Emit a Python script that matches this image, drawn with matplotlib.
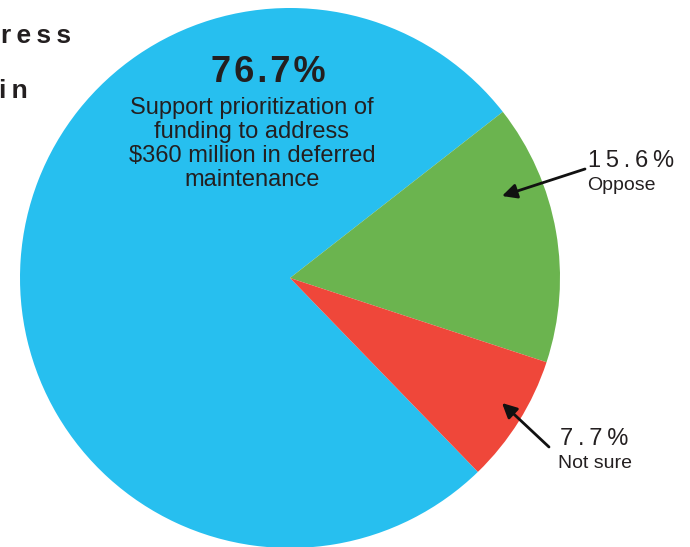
import matplotlib
matplotlib.use("Agg")
import matplotlib.pyplot as plt

# survey result
categories = ["Support prioritization of\nfunding to address\n$360 million in deferred\nmaintenance",
              "Oppose", "Not sure"]
shares = [76.7, 15.6, 7.7]
pct_labels = ["76.7%", "15.6%", "7.7%"]
colors = ["#27BFEF", "#6BB44F", "#EF473A"]

W, H = 690, 547
TXT = "#231F20"
plt.rcParams["font.family"] = ["Liberation Sans", "DejaVu Sans"]


def spaced(s, sep="\u200a"):
    return sep.join(s)


fig = plt.figure(figsize=(W / 100, H / 100), dpi=100)
ax = fig.add_axes([0, 0, 1, 1])

ax.pie(shares, colors=colors, center=(290, H - 278), radius=270,
       startangle=-45.9, counterclock=False,
       wedgeprops=dict(linewidth=0))
ax.set_xlim(0, W)
ax.set_ylim(0, H)
ax.set_aspect("equal")
ax.axis("off")

# cut-off heading on the left
ax.text(71, H - 36, spaced("ress", "\u2009"), ha="right", va="center",
        fontsize=19, fontweight="bold", color=TXT)
ax.text(28, H - 91, spaced("in", "\u2009"), ha="right", va="center",
        fontsize=19, fontweight="bold", color=TXT)

# big slice label
ax.text(268, H - 72, spaced(pct_labels[0]), ha="center", va="center",
        fontsize=26, fontweight="heavy", color=TXT)
ax.text(252, H - 144, categories[0], ha="center", va="center",
        fontsize=17, color=TXT, linespacing=1.12)

arrow = dict(arrowstyle="-|>", color="#111111", lw=2, mutation_scale=22,
             shrinkA=0, shrinkB=0)

# Oppose
ax.annotate("", xy=(502, H - 196), xytext=(585, H - 169), arrowprops=arrow)
ax.text(631, H - 161, spaced(pct_labels[1], "\u2009"), ha="center", va="center",
        fontsize=17, color=TXT)
ax.text(621, H - 186, categories[1], ha="center", va="center",
        fontsize=14, color=TXT)

# Not sure
ax.annotate("", xy=(502, H - 403), xytext=(549, H - 447), arrowprops=arrow)
ax.text(594, H - 439, spaced(pct_labels[2], "\u2009"), ha="center", va="center",
        fontsize=17, color=TXT)
ax.text(595, H - 463, categories[2], ha="center", va="center",
        fontsize=14, color=TXT)

fig.savefig("out.png", dpi=100)
